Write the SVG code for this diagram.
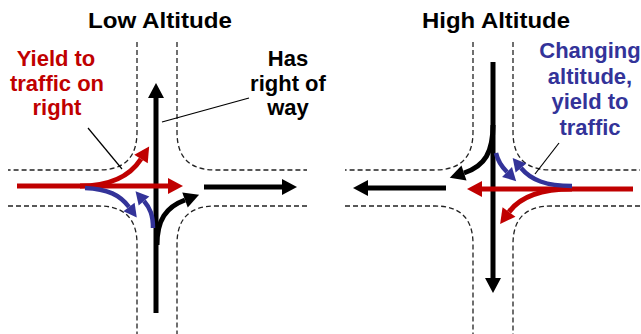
<svg xmlns="http://www.w3.org/2000/svg" width="641" height="334" viewBox="0 0 641 334">
<style>
.road{fill:none;stroke:#222;stroke-width:1.3;stroke-dasharray:5 3}
.t{font-family:"Liberation Sans",Arial,sans-serif;font-weight:bold;font-size:22px;text-anchor:middle}
.blk{fill:none;stroke:#000;stroke-width:5}
.red{fill:none;stroke:#C00000;stroke-width:5}
.blu{fill:none;stroke:#333399;stroke-width:4.5}
.lead{fill:none;stroke:#000;stroke-width:1.2}
</style>
<defs>
<marker id="hb" markerUnits="userSpaceOnUse" markerWidth="16" markerHeight="16" refX="0" refY="8" orient="auto" overflow="visible"><path d="M0,0 L15,8 L0,16 z" fill="#000"/></marker>
<marker id="hr" markerUnits="userSpaceOnUse" markerWidth="16" markerHeight="16" refX="0" refY="8" orient="auto" overflow="visible"><path d="M0,0 L15,8 L0,16 z" fill="#C00000"/></marker>
<marker id="hu" markerUnits="userSpaceOnUse" markerWidth="16" markerHeight="16" refX="0" refY="7" orient="auto" overflow="visible"><path d="M0,0 L13,7 L0,14 z" fill="#333399"/></marker>
</defs>
<rect width="641" height="334" fill="#fff"/>

<g id="roads-low">
<path class="road" d="M137,42 V132 Q137,170 99,170 H8"/>
<path class="road" d="M8,206 H99 Q137,206 137,244 V334"/>
<path class="road" d="M177,42 V132 Q177,170 215,170 H307"/>
<path class="road" d="M307,206 H215 Q177,206 177,244 V334"/>
</g>
<g id="roads-high">
<path class="road" d="M473,42 V132 Q473,170 435,170 H345"/>
<path class="road" d="M345,206 H435 Q473,206 473,244 V334"/>
<path class="road" d="M513,42 V132 Q513,170 551,170 H640"/>
<path class="road" d="M640,206 H551 Q513,206 513,244 V334"/>
</g>

<g id="title-low"><text class="t" x="160" y="28" textLength="144" lengthAdjust="spacingAndGlyphs">Low Altitude</text></g>
<g id="title-high"><text class="t" x="496" y="28" textLength="148" lengthAdjust="spacingAndGlyphs">High Altitude</text></g>

<g id="label-yield" fill="#C00000">
<text class="t" x="56" y="66">Yield to</text>
<text class="t" x="57" y="91">traffic on</text>
<text class="t" x="57" y="115">right</text>
</g>
<g id="label-row">
<text class="t" x="288" y="66">Has</text>
<text class="t" x="288" y="91">right of</text>
<text class="t" x="288" y="115">way</text>
</g>
<g id="label-changing" fill="#333399">
<text class="t" x="590" y="58">Changing</text>
<text class="t" x="590" y="84">altitude,</text>
<text class="t" x="590" y="109">yield to</text>
<text class="t" x="590" y="135">traffic</text>
</g>

<g id="connectors">
<path class="lead" d="M88,128 L122,169"/>
<path class="lead" d="M249,98 L162,122"/>
<path class="lead" d="M559,143 L535,174"/>

<!-- low altitude -->
<path class="blk" d="M156,313 V98" marker-end="url(#hb)"/>
<path class="blk" d="M204,187 H282" marker-end="url(#hb)"/>
<path class="blk" d="M157,245 C157,220 166,207 185,200" marker-end="url(#hb)"/>
<path class="red" d="M17,186 H168" marker-end="url(#hr)"/>
<path class="red" d="M80,186 C112,186 130,176 141,159" marker-end="url(#hr)"/>
<path class="blu" d="M85,188 C108,189 120,195 129,207" marker-end="url(#hu)"/>
<path class="blu" d="M153,228 C153,215 150,208 144,201" marker-end="url(#hu)"/>

<!-- high altitude -->
<path class="blk" d="M493,62 V278" marker-end="url(#hb)"/>
<path class="blk" d="M446,188 H368" marker-end="url(#hb)"/>
<path class="blk" d="M493,125 C493,152 485,166 464,173" marker-end="url(#hb)"/>
<path class="red" d="M633,189 H482" marker-end="url(#hr)"/>
<path class="red" d="M572,189 C542,189 520,197 509,212" marker-end="url(#hr)"/>
<path class="blu" d="M572,186 C546,186 531,180 521,168" marker-end="url(#hu)"/>
<path class="blu" d="M496,153 C498,162 502,167 507,172" marker-end="url(#hu)"/>
</g>
</svg>
